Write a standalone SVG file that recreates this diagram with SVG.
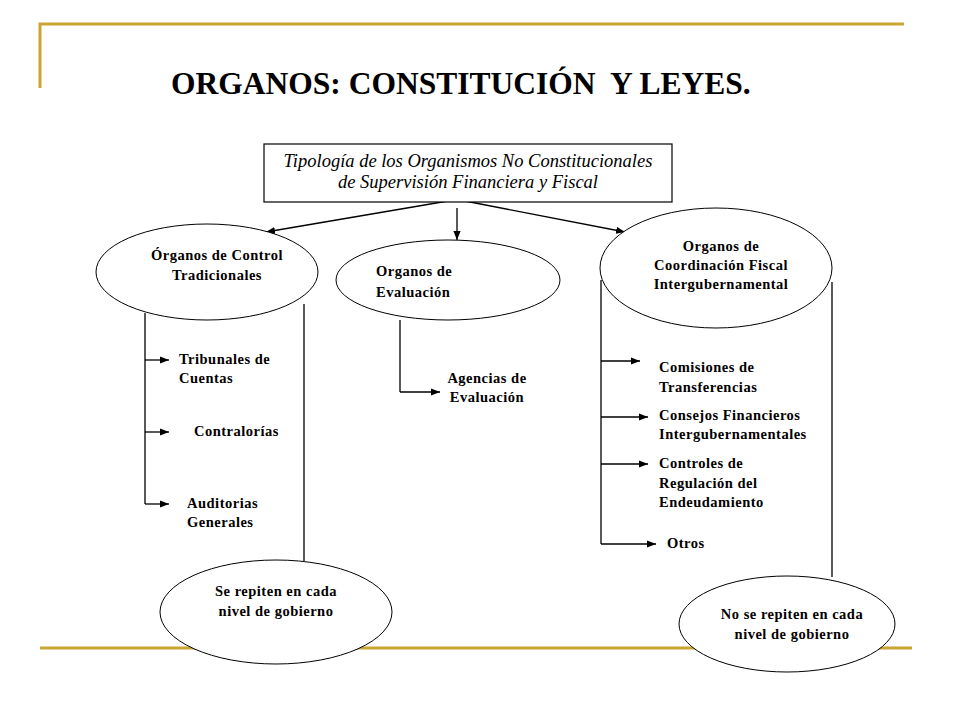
<svg xmlns="http://www.w3.org/2000/svg" width="960" height="720" viewBox="0 0 960 720">
<style>
.gold{stroke:#C9A632;stroke-width:3;fill:none}
.ln{stroke:#000;stroke-width:1.3;fill:none}
.arr{stroke:#000;stroke-width:1.3;fill:none;marker-end:url(#ah)}
.el{fill:#fff;stroke:#000;stroke-width:1}
.lb{font-family:"Liberation Serif","Times New Roman",serif;font-weight:bold;font-size:14.5px;letter-spacing:0.5px;fill:#000}
.c{text-anchor:middle}
.ttl{font-family:"Liberation Serif","Times New Roman",serif;font-weight:bold;font-size:31.5px;fill:#000}
.it{font-family:"Liberation Serif","DejaVu Serif",serif;font-style:italic;font-size:18.5px;fill:#000;text-anchor:middle}
</style>
<defs>
<marker id="ah" viewBox="0 0 10 10" refX="10" refY="5" markerWidth="9" markerHeight="9" markerUnits="userSpaceOnUse" orient="auto">
<path d="M0,1 L10,5 L0,9 Z" fill="#000"/>
</marker>
</defs>
<rect width="960" height="720" fill="#fff"/>
<g id="frame">
<polyline class="gold" points="40,88 40,24 904,24"/>
<line class="gold" x1="40" y1="648" x2="912" y2="648"/>
</g>
<text class="ttl" x="171" y="94" xml:space="preserve">ORGANOS: CONSTITUCIÓN  Y LEYES.</text>
<g id="connectors">
<line class="arr" x1="448" y1="201" x2="266" y2="232"/>
<line class="arr" x1="457" y1="208" x2="457" y2="240"/>
<line class="arr" x1="465" y1="201" x2="625" y2="232"/>
<line class="ln" x1="145" y1="313" x2="145" y2="504"/>
<line class="arr" x1="145" y1="360" x2="169" y2="360"/>
<line class="arr" x1="145" y1="432" x2="169" y2="432"/>
<line class="arr" x1="145" y1="504" x2="169" y2="504"/>
<line class="ln" x1="304" y1="304" x2="304" y2="561"/>
<line class="ln" x1="400" y1="320" x2="400" y2="392"/>
<line class="arr" x1="400" y1="392" x2="440" y2="392"/>
<line class="ln" x1="601" y1="280" x2="601" y2="544"/>
<line class="ln" x1="832" y1="282" x2="832" y2="577"/>
<line class="arr" x1="601" y1="361" x2="640" y2="361"/>
<line class="arr" x1="601" y1="417" x2="648" y2="417"/>
<line class="arr" x1="601" y1="464" x2="648" y2="464"/>
<line class="arr" x1="601" y1="544" x2="656" y2="544"/>
</g>
<g id="root">
<rect x="264" y="144" width="408" height="58" fill="#fff" stroke="#000" stroke-width="1.2"/>
<text class="it" x="468" y="167">Tipología de los Organismos No Constitucionales</text>
<text class="it" x="468" y="188">de Supervisión Financiera y Fiscal</text>
</g>
<g id="control">
<ellipse class="el" cx="207" cy="272" rx="111" ry="48"/>
<text class="lb c" x="217" y="260">Órganos de Control</text>
<text class="lb c" x="217" y="280">Tradicionales</text>
</g>
<g id="evaluacion">
<ellipse class="el" cx="448" cy="280" rx="112" ry="40"/>
<text class="lb" x="376" y="276">Organos de</text>
<text class="lb" x="376" y="297">Evaluación</text>
</g>
<g id="coordinacion">
<ellipse class="el" cx="716" cy="268" rx="116" ry="60"/>
<text class="lb c" x="721" y="251">Organos de</text>
<text class="lb c" x="721" y="270">Coordinación Fiscal</text>
<text class="lb c" x="721" y="289">Intergubernamental</text>
</g>
<g id="tribunales"><text class="lb" x="179" y="364">Tribunales de</text><text class="lb" x="179" y="383">Cuentas</text></g>
<g id="contralorias"><text class="lb" x="194" y="436">Contralorías</text></g>
<g id="auditorias"><text class="lb" x="187" y="508">Auditorias</text><text class="lb" x="187" y="527">Generales</text></g>
<g id="agencias"><text class="lb c" x="487" y="383">Agencias de</text><text class="lb c" x="487" y="402">Evaluación</text></g>
<g id="comisiones"><text class="lb" x="659" y="372">Comisiones de</text><text class="lb" x="659" y="392">Transferencias</text></g>
<g id="consejos"><text class="lb" x="659" y="420">Consejos Financieros</text><text class="lb" x="659" y="439">Intergubernamentales</text></g>
<g id="controles"><text class="lb" x="659" y="468">Controles de</text><text class="lb" x="659" y="488">Regulación del</text><text class="lb" x="659" y="507">Endeudamiento</text></g>
<g id="otros"><text class="lb" x="667" y="548">Otros</text></g>
<g id="se-repiten">
<ellipse class="el" cx="276" cy="612" rx="116" ry="52"/>
<text class="lb c" x="276" y="596">Se repiten en cada</text>
<text class="lb c" x="276" y="616">nivel de gobierno</text>
</g>
<g id="no-se-repiten">
<ellipse class="el" cx="787" cy="624" rx="108" ry="48"/>
<text class="lb c" x="792" y="619">No se repiten en cada</text>
<text class="lb c" x="792" y="639">nivel de gobierno</text>
</g>
</svg>
